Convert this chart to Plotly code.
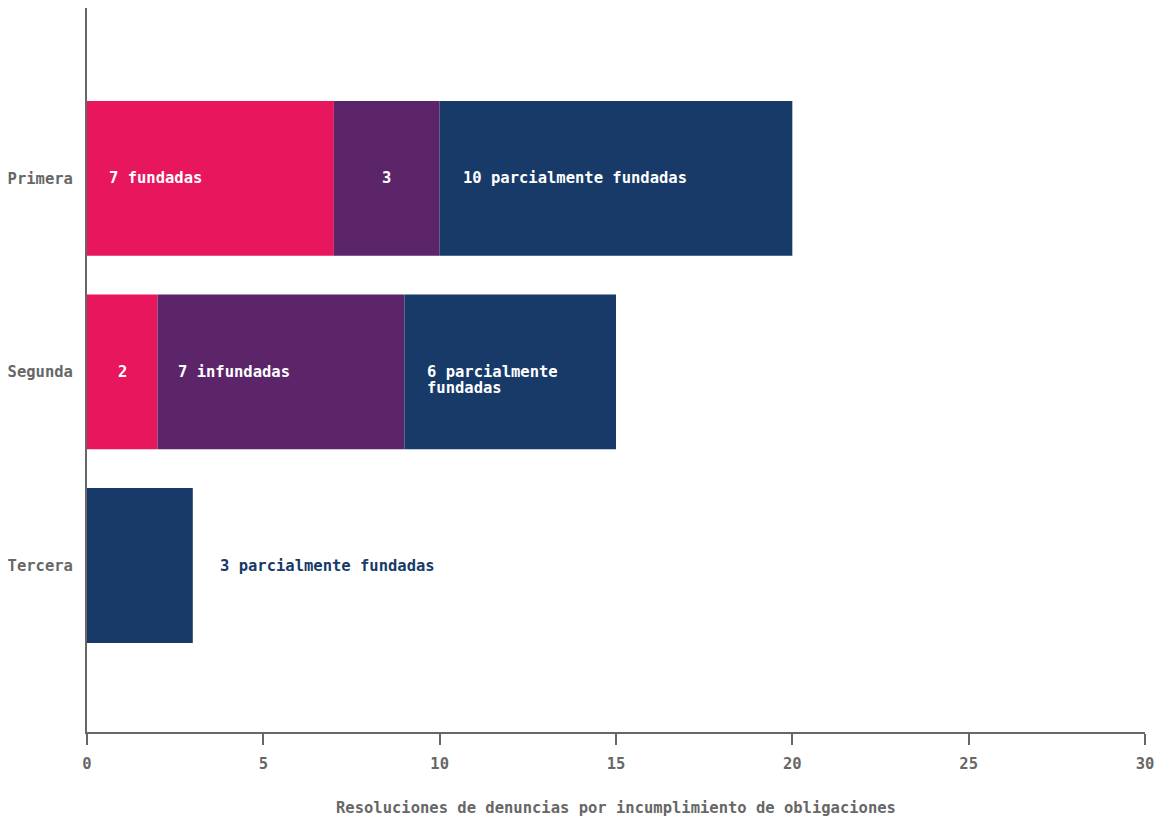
import plotly.graph_objects as go

categories = ["Primera", "Segunda", "Tercera"]
fundadas = [7, 2, 0]
infundadas = [3, 7, 0]
parciales = [10, 6, 3]

labels_fundadas = ["7 fundadas", "2", ""]
labels_infundadas = ["3", "7 infundadas", ""]
labels_parciales = ["10 parcialmente fundadas", "6 parcialmente<br>fundadas", "3 parcialmente fundadas"]

x_ticks = [0, 5, 10, 15, 20, 25, 30]

PINK = "#E8175D"
PURPLE = "#5C2569"
NAVY = "#173A69"
AXIS = "#676767"
FONT = "DejaVu Sans Mono"
FS = 15.5
LINE_H = 16

fig = go.Figure()
for vals, base, col in [
    (fundadas, [0, 0, 0], PINK),
    (infundadas, fundadas, PURPLE),
    (parciales, [a + b for a, b in zip(fundadas, infundadas)], NAVY),
]:
    fig.add_trace(go.Bar(
        y=categories, x=vals, base=base, orientation="h",
        marker=dict(color=col, line=dict(width=0)),
        hoverinfo="skip", showlegend=False,
    ))

def lab(x, y, text, anchor, shift, color="white"):
    out = []
    for k, line in enumerate(text.split("<br>")):
        out.append(dict(x=x, y=y, text=line, xanchor=anchor, xshift=shift, yshift=-LINE_H * k,
                        align="left", font=dict(color=color, size=FS, family=FONT, weight="bold"),
                        showarrow=False))
    return out

ann = []
for i, cat in enumerate(categories):
    f, inf, p = fundadas[i], infundadas[i], parciales[i]
    if labels_fundadas[i]:
        if f >= 5:
            ann += lab(0, cat, labels_fundadas[i], "left", 20)
        else:
            ann += lab(f / 2, cat, labels_fundadas[i], "center", 0)
    if labels_infundadas[i]:
        if inf >= 5:
            ann += lab(f, cat, labels_infundadas[i], "left", 18)
        else:
            ann += lab(f + inf / 2, cat, labels_infundadas[i], "center", 0)
    start = f + inf
    if p >= 5:
        ann += lab(start, cat, labels_parciales[i], "left", 21)
    else:
        ann += lab(start + p, cat, labels_parciales[i], "left", 25, NAVY)

fig.update_layout(
    width=1167, height=821,
    margin=dict(l=79, r=30, t=0, b=97),
    paper_bgcolor="white", plot_bgcolor="white",
    barmode="overlay", bargap=0.2,
    annotations=ann,
    font=dict(family=FONT, color=AXIS, size=FS),
    xaxis=dict(
        range=[0, 30], tickvals=x_ticks, ticktext=[str(t) for t in x_ticks],
        showgrid=False, zeroline=False, showline=True, linecolor=AXIS, linewidth=2,
        ticks="outside", ticklen=11, tickwidth=2, tickcolor=AXIS,
        ticklabelstandoff=5,
        tickfont=dict(family=FONT, size=FS, color=AXIS, weight="bold"),
        title=dict(text="Resoluciones de denuncias por incumplimiento de obligaciones",
                   font=dict(family=FONT, size=FS, color=AXIS, weight="bold"), standoff=31),
        fixedrange=True,
    ),
    yaxis=dict(
        categoryorder="array", categoryarray=categories[::-1],
        range=[-0.86, 2.88],
        showgrid=False, zeroline=False, showline=True, linecolor=AXIS, linewidth=2,
        ticks="", ticklabelstandoff=9,
        tickfont=dict(family=FONT, size=FS, color=AXIS, weight="bold"),
        fixedrange=True,
    ),
)

fig.write_html("out.html")
